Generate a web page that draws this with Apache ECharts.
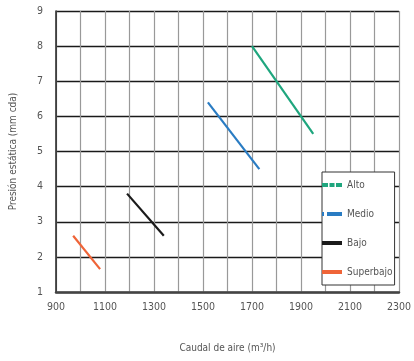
<!DOCTYPE html>
<html><head><meta charset="utf-8">
<script src="https://cdn.jsdelivr.net/npm/echarts@6/dist/echarts.min.js"></script>
<style>html,body{margin:0;padding:0;background:#fff}#c{width:414px;height:361px}</style>
</head><body><div id="c"></div>
<script>
const seriesNames = ['Alto', 'Medio', 'Bajo', 'Superbajo'];
const altoData = [[1700, 8.0], [1950, 5.5]];
const medioData = [[1520, 6.4], [1730, 4.5]];
const bajoData = [[1190, 3.8], [1340, 2.6]];
const superbajoData = [[970, 2.6], [1080, 1.65]];
const colors = ['#1fa67e', '#2a7cc3', '#1a1a1a', '#ef6438'];
const FONT = '"Liberation Sans Narrow","DejaVu Sans Condensed","Roboto Condensed","Liberation Sans",sans-serif';
const DASH = 'path://M0,0h6v4h-6z M7.5,0h5v4h-5z M14,0h6v4h-6z';
const DASH2 = 'path://M0,0h2v4h-2z M5,0h15v4h-15z';

const chart = echarts.init(document.getElementById('c'));
const dataSets = [altoData, medioData, bajoData, superbajoData];
chart.setOption({
  animation: false,
  grid: {left: 56, right: 11, top: 11, bottom: 69},
  xAxis: {
    type: 'value', min: 900, max: 2300, interval: 100,
    name: 'Caudal de aire (m³/h)', nameLocation: 'middle', nameGap: 51,
    nameTextStyle: {fontFamily: FONT, fontSize: 10, color: '#555'},
    axisLine: {show: true, lineStyle: {color: '#444', width: 2.5}},
    axisTick: {show: false},
    axisLabel: {fontFamily: FONT, fontSize: 10.5, color: '#555', margin: 10,
      formatter: v => ((v - 900) % 200 === 0 ? String(v) : '')},
    splitLine: {show: true, lineStyle: {color: '#999', width: 1.2}}
  },
  yAxis: {
    type: 'value', min: 1, max: 9, interval: 1,
    name: 'Presión estática (mm cda)', nameLocation: 'middle', nameGap: 38,
    nameTextStyle: {fontFamily: FONT, fontSize: 10, color: '#555'},
    axisLine: {show: true, lineStyle: {color: '#222', width: 1.5}},
    axisTick: {show: false},
    axisLabel: {fontFamily: FONT, fontSize: 10.5, color: '#555', margin: 13},
    splitLine: {show: true, lineStyle: {color: '#1a1a1a', width: 1.4}}
  },
  legend: {
    orient: 'vertical', left: 322, top: 172,
    backgroundColor: '#fff', borderColor: '#333', borderWidth: 1,
    padding: [8, 2, 8, 0], itemGap: 19, itemWidth: 20, itemHeight: 4,
    textStyle: {fontFamily: FONT, fontSize: 10, color: '#555'},
    data: [
      {name: 'Alto', icon: DASH},
      {name: 'Medio', icon: DASH2},
      {name: 'Bajo', icon: 'rect'},
      {name: 'Superbajo', icon: 'rect'}
    ]
  },
  series: seriesNames.map((n, i) => ({
    name: n, type: 'line', data: dataSets[i], symbol: 'none',
    color: colors[i], lineStyle: {color: colors[i], width: 2.2}
  }))
});
</script></body></html>
